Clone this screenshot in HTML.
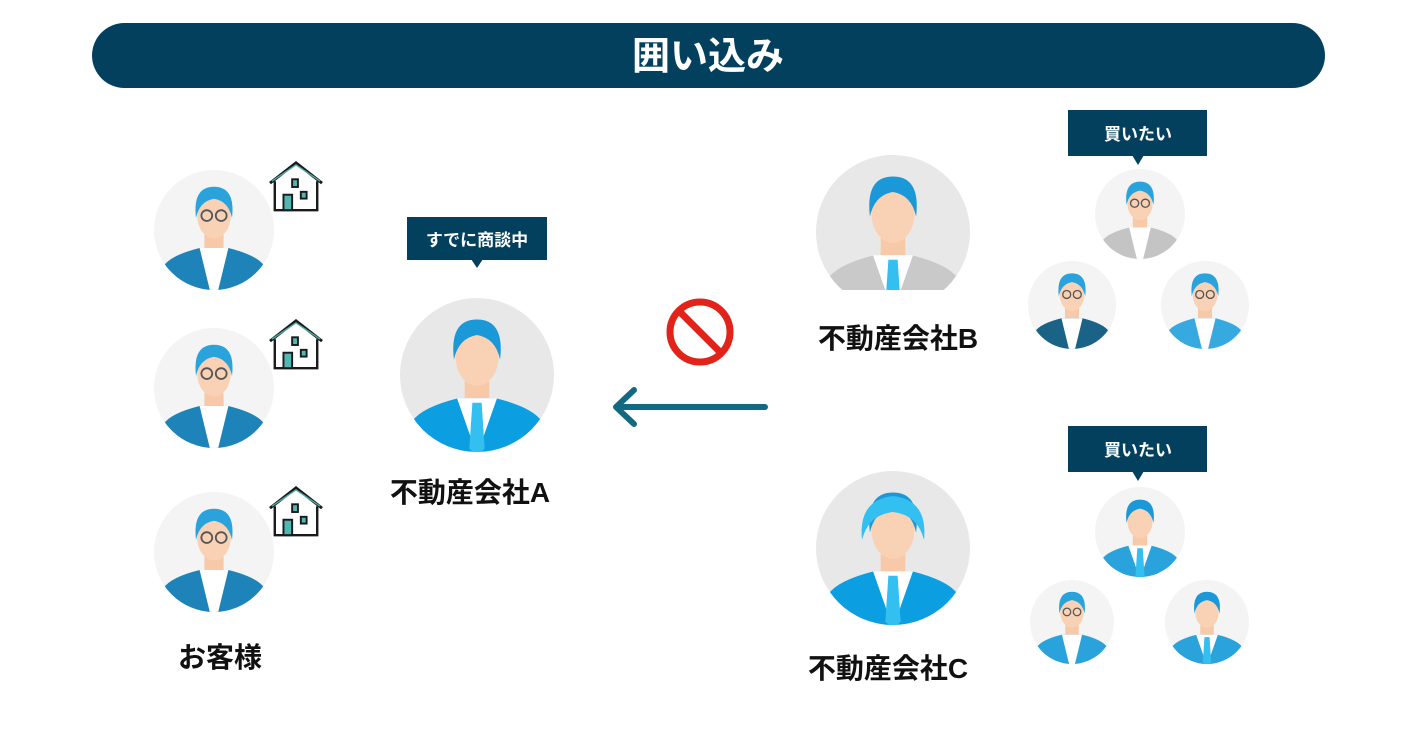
<!DOCTYPE html>
<html><head><meta charset="utf-8"><style>
html,body{margin:0;padding:0;background:#fff}
svg{display:block}
text{font-family:"Liberation Sans","Noto Sans CJK JP",sans-serif;font-weight:bold}
</style></head><body>
<svg width="1414" height="733" viewBox="0 0 1414 733" xmlns="http://www.w3.org/2000/svg">
<defs>
<clipPath id="cc"><circle cx="0" cy="0" r="50"/></clipPath>
<symbol id="p" viewBox="-50 -50 100 100" overflow="hidden">
 <g clip-path="url(#cc)">
  <rect x="-8" y="4" width="16" height="16" fill="#f7c9a8"/>
  <path d="M-44 52 L-42 30 Q-36 21 -12 15 L12 15 Q36 21 42 30 L44 52 Z" fill="currentColor"/>
  <path d="M-13 15 L0 52 L13 15 Z" fill="#fff"/>
  <path d="M-3 18 L3 18 L5 48 L0 52 L-5 48 Z" fill="#33bfef"/>
  <ellipse cx="0" cy="-12" rx="14" ry="19" fill="#f9d2b5"/>
  <path d="M-15 -10 Q-18 -36 0 -36 Q18 -36 15 -10 Q12 -24 0 -26 Q-12 -24 -15 -10 Z" fill="#1b98d8"/>
 </g>
</symbol>
<symbol id="g" viewBox="-50 -50 100 100" overflow="hidden">
 <g clip-path="url(#cc)">
  <rect x="-8" y="4" width="16" height="16" fill="#f7c9a8"/>
  <path d="M-44 52 L-42 30 Q-36 21 -12 15 L12 15 Q36 21 42 30 L44 52 Z" fill="currentColor"/>
  <path d="M-12 15 L-3 52 L3 52 L12 15 Z" fill="#fff"/>
  <ellipse cx="0" cy="-12" rx="14" ry="19" fill="#f9d2b5"/>
  <path d="M-15 -10 Q-18 -36 0 -36 Q18 -36 15 -10 Q12 -24 0 -26 Q-12 -24 -15 -10 Z" fill="#2aa3dc"/>
  <circle cx="-6" cy="-12" r="4.5" fill="none" stroke="#555" stroke-width="1.5"/>
  <circle cx="6" cy="-12" r="4.5" fill="none" stroke="#555" stroke-width="1.5"/>
 </g>
</symbol>
<symbol id="h" viewBox="0 0 60 56">
 <path d="M3 24 L30 3 L57 24" fill="none" stroke="#1a1a1a" stroke-width="3"/>
 <path d="M5 22 L30 5 L55 22" fill="none" stroke="#4aa9a5" stroke-width="1.5"/>
 <path d="M8 22 L8 52 L52 52 L52 22" fill="#fff" stroke="#1a1a1a" stroke-width="2.5"/>
 <rect x="17" y="36" width="9" height="16" fill="#4fb8b3" stroke="#1a1a1a" stroke-width="2"/>
 <rect x="26" y="20" width="6" height="8" fill="#4fb8b3" stroke="#1a1a1a" stroke-width="2"/>
 <rect x="35" y="33" width="6" height="7" fill="#4fb8b3" stroke="#1a1a1a" stroke-width="2"/>
</symbol>
</defs>

<rect x="92" y="23" width="1233" height="65" rx="32.5" fill="#03405e"/>
<text x="708" y="69" font-size="38" fill="#fff" text-anchor="middle">囲い込み</text>

<g fill="#f4f4f4"><circle cx="214" cy="230" r="60"/><circle cx="214" cy="388" r="60"/><circle cx="214" cy="552" r="60"/></g>
<use href="#g" x="154" y="170" width="120" height="120" style="color:#1e83b8"/>
<use href="#g" x="154" y="328" width="120" height="120" style="color:#1e83b8"/>
<use href="#g" x="154" y="492" width="120" height="120" style="color:#1e83b8"/>
<use href="#h" x="267" y="160" width="58" height="54"/>
<use href="#h" x="267" y="318" width="58" height="54"/>
<use href="#h" x="267" y="485" width="58" height="54"/>
<text x="220" y="667" font-size="28" fill="#111" text-anchor="middle">お客様</text>

<rect x="407" y="217" width="140" height="43" fill="#03405e"/>
<path d="M471 259 L483 259 L477 268 Z" fill="#03405e"/>
<text x="477" y="246" font-size="17" fill="#fff" text-anchor="middle">すでに商談中</text>
<circle cx="477" cy="375" r="77" fill="#e8e8e8"/>
<use href="#p" x="400" y="298" width="154" height="154" style="color:#0b9ee0"/>
<text x="470" y="502" font-size="28" fill="#111" text-anchor="middle">不動産会社A</text>

<circle cx="700" cy="332" r="30" fill="none" stroke="#e2231a" stroke-width="7"/>
<line x1="679" y1="311" x2="721" y2="353" stroke="#e2231a" stroke-width="7"/>
<line x1="765" y1="407" x2="620" y2="407" stroke="#136a80" stroke-width="6" stroke-linecap="round"/>
<path d="M634 390 L616 407 L634 424" fill="none" stroke="#136a80" stroke-width="6" stroke-linecap="round" stroke-linejoin="round"/>

<circle cx="893" cy="232" r="77" fill="#e8e8e8"/>
<use href="#p" x="816" y="155" width="154" height="154" style="color:#c9c9c9"/>
<rect x="816" y="290" width="160" height="30" fill="#fff"/>
<text x="898" y="348" font-size="28" fill="#111" text-anchor="middle">不動産会社B</text>
<rect x="1068" y="110" width="139" height="46" fill="#03405e"/>
<path d="M1132 155 L1144 155 L1138 165 Z" fill="#03405e"/>
<text x="1138" y="140" font-size="17" fill="#fff" text-anchor="middle">買いたい</text>
<g fill="#f4f4f4"><circle cx="1140" cy="214" r="45"/><circle cx="1072" cy="305" r="44"/><circle cx="1205" cy="305" r="44"/></g>
<use href="#g" x="1095" y="169" width="90" height="90" style="color:#c4c4c4"/>
<use href="#g" x="1028" y="261" width="88" height="88" style="color:#1a6387"/>
<use href="#g" x="1161" y="261" width="88" height="88" style="color:#36a9e1"/>

<circle cx="893" cy="548" r="77" fill="#e8e8e8"/>
<use href="#p" x="816" y="471" width="154" height="154" style="color:#0b9ee0"/>
<path d="M862 540 Q858 500 893 496 Q928 500 924 540 Q918 515 893 512 Q868 515 862 540Z" fill="#33bfef"/>
<text x="888" y="678" font-size="28" fill="#111" text-anchor="middle">不動産会社C</text>
<rect x="1068" y="426" width="139" height="46" fill="#03405e"/>
<path d="M1132 471 L1144 471 L1138 481 Z" fill="#03405e"/>
<text x="1138" y="456" font-size="17" fill="#fff" text-anchor="middle">買いたい</text>
<g fill="#f4f4f4"><circle cx="1140" cy="532" r="45"/><circle cx="1072" cy="622" r="42"/><circle cx="1207" cy="622" r="42"/></g>
<use href="#p" x="1095" y="487" width="90" height="90" style="color:#2aa3dc"/>
<use href="#g" x="1030" y="580" width="84" height="84" style="color:#2aa3dc"/>
<use href="#p" x="1165" y="580" width="84" height="84" style="color:#2aa3dc"/>
</svg>
</body></html>
